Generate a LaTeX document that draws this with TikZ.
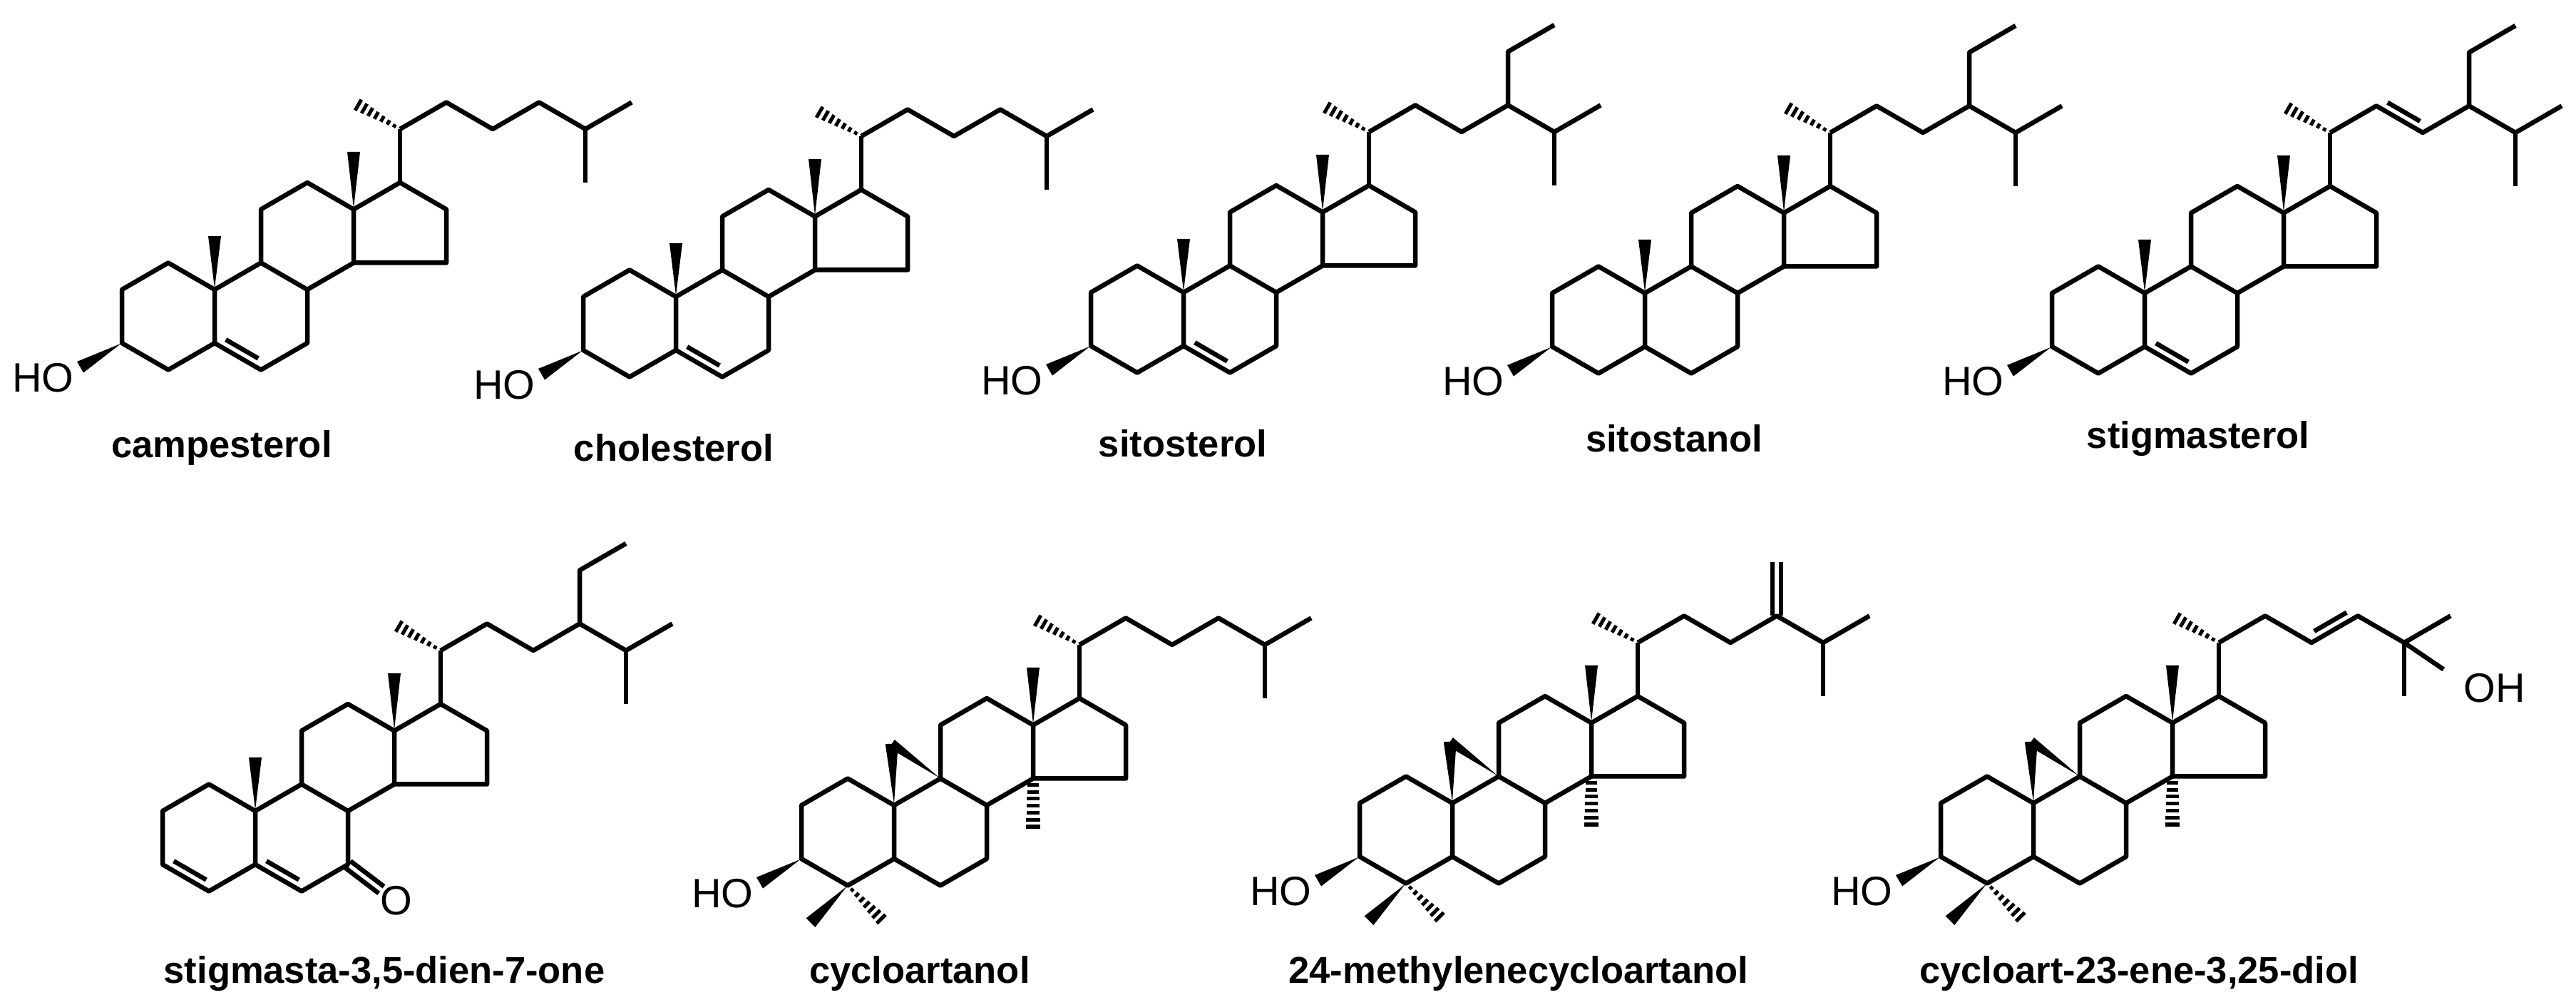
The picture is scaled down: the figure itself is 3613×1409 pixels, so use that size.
\documentclass[tikz,border=0pt]{standalone}
\usepackage{fontspec}
\setmainfont{Liberation Sans}
\usetikzlibrary{calc}
\tikzset{
  bond/.style={line width=1.3pt, line join=round},
  hashl/.style={line width=1.0pt},
  lab/.style={font=\fontsize{10.5}{12}\selectfont\bfseries, inner sep=0pt},
  atomlab/.style={font=\fontsize{11.5}{13}\selectfont, inner sep=0pt},
  lat/.style={x=13pt, y=-7.5pt}
}
\newcommand\wdg[3]{\fill ($(#1)!0.02!(#2)$) -- ($(#2)!#3!90:(#1)$) -- ($(#2)!#3!-90:(#1)$) -- cycle;}
\newcommand\hsh[4]{\foreach \t in {0.12,0.25,...,0.95}{
  \pgfmathsetmacro\w{#3+(#4-#3)*\t}
  \draw[hashl] ($($(#1)!\t!(#2)$)!\w pt!90:(#2)$) -- ($($(#1)!\t!(#2)$)!\w pt!-90:(#2)$);}}
\newcommand\dbl[3]{\draw[bond] ($(#1)!0.15!(#2)!2.4pt!#3:(#2)$) -- ($(#2)!0.15!(#1)!2.4pt!-#3:(#1)$);}
\newcommand\atoms{
  \coordinate (c3) at (0,0); \coordinate (c2) at (0,-2); \coordinate (c1) at (1,-3);
  \coordinate (c10) at (2,-2); \coordinate (c5) at (2,0); \coordinate (c4) at (1,1);
  \coordinate (c6) at (3,1); \coordinate (c7) at (4,0); \coordinate (c8) at (4,-2);
  \coordinate (c9) at (3,-3); \coordinate (c11) at (3,-5); \coordinate (c12) at (4,-6);
  \coordinate (c13) at (5,-5); \coordinate (c14) at (5,-3); \coordinate (c15) at (7,-3);
  \coordinate (c16) at (7,-5); \coordinate (c17) at (6,-6); \coordinate (c20) at (6,-8);
  \coordinate (c18) at (5,-7.15); \coordinate (c19) at (2,-4); \coordinate (c21) at (5,-9);
  \coordinate (c22) at (7,-9); \coordinate (c23) at (8,-8); \coordinate (c24) at (9,-9);
  \coordinate (c25) at (10,-8); \coordinate (c26) at (11,-9); \coordinate (c27) at (10,-6);
  \coordinate (c28) at (9,-11); \coordinate (c29) at (10,-12);
  \coordinate (ho) at (-0.9,0.9);
}
\newcommand\core{
  \atoms
  \draw[bond] (c3)--(c2)--(c1)--(c10)--(c5)--(c4)--cycle;
  \draw[bond] (c5)--(c6)--(c7)--(c8)--(c9)--(c10);
  \draw[bond] (c9)--(c11)--(c12)--(c13)--(c14)--(c8);
  \draw[bond] (c13)--(c17)--(c16)--(c15)--(c14);
  \draw[bond] (c17)--(c20);
  \wdg{c13}{c18}{1.8pt}
  \hsh{c20}{c21}{0.3}{1.9}
}
\newcommand\methylten{\wdg{c10}{c19}{1.8pt}}
\newcommand\hydroxy{\wdg{c3}{ho}{1.8pt} \node[atomlab] (hoL) at (-1.7,1.3) {HO};}
\newcommand\cholchain{\draw[bond] (c20)--(c22)--(c23)--(c24)--(c25)--(c26); \draw[bond] (c25)--(c27);}
\newcommand\sitochain{\cholchain \draw[bond] (c24)--(c28)--(c29);}
\newcommand\cyclo{
  \coordinate (cp) at (1.95,-4.3);
  \wdg{c10}{cp}{1.8pt} \wdg{c9}{cp}{1.4pt}
  \coordinate (m4a) at (0.2,2.39); \coordinate (m4b) at (1.8,2.39); \coordinate (m14) at (5,-1);
  \wdg{c4}{m4a}{1.8pt} \hsh{c4}{m4b}{0.3}{1.9} \hsh{c14}{m14}{1.5}{2.1}
}
\begin{document}
\begin{tikzpicture}[x=0.2pt,y=-0.2pt]
\useasboundingbox[fill=white] (0,0) rectangle (3613,1409);
% campesterol
\begin{scope}[shift={(171,481)},lat]
  \core \methylten \hydroxy \cholchain \dbl{c5}{c6}{90}
\end{scope}
% cholesterol
\begin{scope}[shift={(818,491)},lat]
  \core \methylten \hydroxy \cholchain \dbl{c5}{c6}{90}
\end{scope}
% sitosterol
\begin{scope}[shift={(1530,485)},lat]
  \core \methylten \hydroxy \sitochain \dbl{c5}{c6}{90}
\end{scope}
% sitostanol
\begin{scope}[shift={(2177,486)},lat]
  \core \methylten \hydroxy \sitochain
\end{scope}
% stigmasterol
\begin{scope}[shift={(2878,486)},lat]
  \core \methylten \hydroxy \sitochain \dbl{c5}{c6}{90} \dbl{c22}{c23}{90}
\end{scope}
% stigmasta-3,5-dien-7-one
\begin{scope}[shift={(228,1212)},lat]
  \core \methylten \sitochain \dbl{c3}{c4}{90} \dbl{c5}{c6}{90}
  \node[atomlab] (oL) at (5.05,1.35) {O};
  \coordinate (oe) at (4.72,0.95);
  \draw[bond] ($(c7)!1.2pt!90:(oe)$) -- ($(oe)!1.2pt!-90:(c7)$);
  \draw[bond] ($(c7)!1.2pt!-90:(oe)$) -- ($(oe)!1.2pt!90:(c7)$);
\end{scope}
% cycloartanol
\begin{scope}[shift={(1124,1204)},lat]
  \core \cyclo \hydroxy \cholchain
\end{scope}
% 24-methylenecycloartanol
\begin{scope}[shift={(1907,1201)},lat]
  \core \cyclo \hydroxy
  \draw[bond] (c20)--(c22)--(c23)--(c24)--(c25)--(c26); \draw[bond] (c25)--(c27);
  \draw[bond] ($(c24)!1.2pt!90:(c28)$) -- ($(c28)!1.2pt!-90:(c24)$);
  \draw[bond] ($(c24)!1.2pt!-90:(c28)$) -- ($(c28)!1.2pt!90:(c24)$);
\end{scope}
% cycloart-23-ene-3,25-diol
\begin{scope}[shift={(2722,1201)},lat]
  \core \cyclo \hydroxy
  \draw[bond] (c20)--(c22)--(c23)--(c24)--(c25)--(c26); \draw[bond] (c25)--(c27);
  \dbl{c23}{c24}{90}
  \coordinate (ohb) at (10.85,-7.0);
  \draw[bond] (c25)--(ohb);
  \node[atomlab] (ohL) at (11.95,-6.3) {OH};
\end{scope}
% names
\node[lab] (n1) at (311,628) {campesterol};
\node[lab] (n2) at (945,628) {cholesterol};
\node[lab] (n3) at (1659,622) {sitosterol};
\node[lab] (n4) at (2348,615) {sitostanol};
\node[lab] (n5) at (3083,615) {stigmasterol};
\node[lab] (n6) at (539,1365) {stigmasta-3,5-dien-7-one};
\node[lab] (n7) at (1290,1365) {cycloartanol};
\node[lab] (n8) at (2130,1365) {24-methylenecycloartanol};
\node[lab] (n9) at (3000,1365) {cycloart-23-ene-3,25-diol};
\end{tikzpicture}
\end{document}
